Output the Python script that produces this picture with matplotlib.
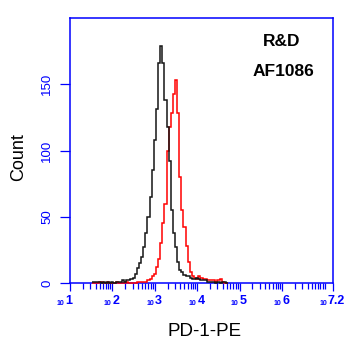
import numpy as np
import matplotlib
matplotlib.use("Agg")
import matplotlib.pyplot as plt
from matplotlib.ticker import NullFormatter

plt.rcParams['font.family'] = ['Liberation Sans', 'DejaVu Sans']

# histogram channels, log10 of the first bin centre and the bin width (decades)
first_bin = 1.55
bin_width = 0.05

black_counts = [1, 1, 1, 1, 0, 1, 0, 1, 0, 1, 0, 1, 1, 1, 2, 1, 2,
                2, 3, 4, 7, 11, 15, 20, 27, 38, 50, 65, 85, 108, 131, 166,
                179, 166, 138, 118, 92, 55, 38, 27, 16, 10, 8, 6, 5, 5, 4,
                3, 3, 4, 3, 2, 2, 2, 1, 1, 1, 1, 0, 1, 0, 1, 1, 0]
red_counts = [0, 0, 0, 1, 1, 0, 0, 1, 0, 0, 0, 1, 0, 0, 0, 0, 1, 0,
              0, 0, 0, 1, 1, 1, 1, 1, 2, 3, 5, 7, 12, 18, 30, 45, 60, 100,
              118, 128, 143, 153, 128, 80, 55, 42, 28, 16, 8, 5, 4, 3, 5,
              4, 3, 3, 2, 2, 2, 2, 1, 2, 3, 1, 0, 0]

decade_ticks = [1, 2, 3, 4, 5, 6, 7.2]
decade_labels = ['1', '2', '3', '4', '5', '6', '7.2']
y_ticks = [0, 50, 100, 150]

BLUE = '#0000ff'

fig = plt.figure(figsize=(3.55, 3.53), dpi=100)
ax = fig.add_axes([70 / 355, 1 - 283 / 353, 263 / 355, 265 / 353])


def edges_for(counts):
    n = len(counts)
    return 10 ** (first_bin - bin_width / 2 + bin_width * np.arange(n + 1))


ax.stairs(red_counts, edges_for(red_counts), color='red', lw=1.1,
          baseline=None, zorder=3, clip_on=False)
ax.stairs(black_counts, edges_for(black_counts), color='#151515', lw=1.1,
          baseline=None, zorder=4, clip_on=False)

ax.set_xscale('log')
ax.set_xlim(10 ** 1, 10 ** 7.2)
ax.set_ylim(0, 200)

for s in ax.spines.values():
    s.set_color(BLUE)
    s.set_linewidth(1.1)

# x ticks: decades plus 2..9 minor marks, labels drawn by hand below
ax.set_xticks([10 ** d for d in decade_ticks])
ax.set_xticklabels([])
minor = [m * 10 ** d for d in range(1, 7) for m in range(2, 10)] + [1e7]
ax.set_xticks(minor, minor=True)
ax.xaxis.set_minor_formatter(NullFormatter())
ax.tick_params(axis='x', which='major', direction='out', length=5.5,
               width=0.9, color=BLUE)
ax.tick_params(axis='x', which='minor', direction='out', length=4.5,
               width=0.9, color=BLUE)

for d, lab in zip(decade_ticks, decade_labels):
    off = -5 if d in (1, 7.2) else 0
    ax.annotate('10', xy=(10 ** d, 0), xycoords=('data', 'axes fraction'),
                xytext=(off - 1, -22), textcoords='offset pixels',
                ha='right', va='baseline', fontsize=5, color=BLUE,
                fontweight='bold')
    ax.annotate(lab, xy=(10 ** d, 0), xycoords=('data', 'axes fraction'),
                xytext=(off, -21), textcoords='offset pixels',
                ha='left', va='baseline', fontsize=9, color=BLUE,
                fontweight='bold')

ax.set_yticks(y_ticks)
ax.set_yticklabels([str(v) for v in y_ticks], rotation=90, va='center')
ax.tick_params(axis='y', direction='out', length=7, width=0.9,
               color=BLUE, labelcolor=BLUE, labelsize=9.5, pad=5)

fig.text(19 / 355, 1 - 157 / 353, 'Count', rotation=90, ha='center',
         va='center', fontsize=13)
fig.text(205 / 355, 1 - 331 / 353, 'PD-1-PE', ha='center', va='center',
         fontsize=13.5)
fig.text(282 / 355, 1 - 42 / 353, 'R&D', ha='center', va='center',
         fontsize=12.5, fontweight='bold')
fig.text(283 / 355, 1 - 72 / 353, 'AF1086', ha='center', va='center',
         fontsize=12.5, fontweight='bold')

fig.savefig('out.png', dpi=100)
